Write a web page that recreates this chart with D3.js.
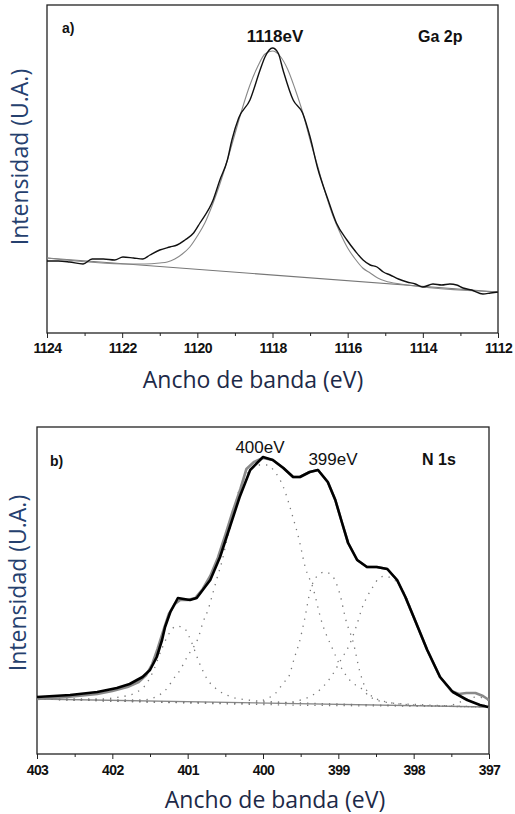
<!DOCTYPE html>
<html>
<head>
<meta charset="utf-8">
<script src="https://cdn.jsdelivr.net/npm/d3@7"></script>
<style>
  body { margin: 0; background: #fff; }
  svg { display: block; }
</style>
</head>
<body>
<script>
// ---- Panel a) Ga 2p : [binding energy (eV), intensity (a.u.)]
const gaMeasured = [
  [1124.0, 72], [1123.7, 72], [1123.4, 71], [1123.04, 69], [1122.8, 74], [1122.5, 74],
  [1122.2, 73], [1121.98, 76], [1121.7, 75], [1121.45, 74], [1121.26, 78], [1121.0, 83],
  [1120.73, 86], [1120.54, 88], [1120.33, 93], [1120.1, 100], [1119.93, 110],
  [1119.58, 133], [1119.4, 153], [1119.2, 173], [1119.08, 193], [1118.9, 215],
  [1118.6, 233], [1118.33, 263], [1118.2, 276], [1118.0, 285], [1117.85, 280],
  [1117.72, 263], [1117.45, 233], [1117.2, 220], [1117.0, 196], [1116.8, 165],
  [1116.52, 133], [1116.3, 110], [1116.02, 93], [1115.8, 82], [1115.59, 73],
  [1115.4, 68], [1115.22, 66], [1115.05, 61], [1114.87, 58], [1114.65, 54],
  [1114.42, 51], [1114.2, 49], [1114.0, 46], [1113.73, 49], [1113.5, 48], [1113.28, 49],
  [1113.1, 48], [1112.93, 45], [1112.7, 43], [1112.4, 39], [1112.2, 40], [1112.0, 41]
];
const gaFit = [
  [1124.0, 75], [1121.8, 69], [1121.4, 69], [1121.0, 70], [1120.8, 71], [1120.6, 74],
  [1120.4, 79], [1120.2, 86], [1120.0, 97], [1119.8, 110], [1119.6, 128], [1119.4, 149],
  [1119.2, 173], [1119.0, 199], [1118.8, 225], [1118.6, 248], [1118.4, 266], [1118.2, 279],
  [1118.0, 282], [1117.8, 277], [1117.6, 264], [1117.4, 244], [1117.2, 221], [1117.0, 193],
  [1116.8, 167], [1116.6, 141], [1116.4, 118], [1116.2, 100], [1116.0, 85], [1115.8, 74],
  [1115.6, 65], [1115.4, 60], [1115.2, 55], [1115.0, 52], [1114.6, 49], [1112.0, 41]
];
const gaBackground = [[1124.0, 75], [1112.0, 41]];
const gaTicks = [1124, 1122, 1120, 1118, 1116, 1114, 1112];
const gaMinorTicks = [1123, 1121, 1119, 1117, 1115, 1113];

// ---- Panel b) N 1s
const nMeasured = [
  [403.0, 57], [402.56, 59], [402.2, 62], [401.94, 66], [401.77, 70], [401.6, 77],
  [401.5, 84], [401.41, 97], [401.34, 114], [401.3, 127], [401.23, 142], [401.13, 156],
  [401.05, 155], [400.97, 154], [400.88, 156], [400.8, 164], [400.7, 174], [400.57, 197],
  [400.44, 227], [400.31, 257], [400.17, 284], [400.0, 297], [399.87, 294], [399.73, 286],
  [399.6, 277], [399.51, 277], [399.38, 282], [399.27, 284], [399.14, 272], [399.04, 254],
  [398.95, 231], [398.87, 211], [398.75, 194], [398.62, 187], [398.49, 187], [398.35, 185],
  [398.22, 174], [398.11, 157], [398.0, 137], [397.82, 104], [397.65, 77], [397.48, 62],
  [397.29, 54], [397.12, 49], [397.01, 47]
];
const nEnvelope = [
  [403.0, 55], [402.6, 57], [402.2, 60], [402.0, 63], [401.8, 67], [401.65, 72],
  [401.55, 79], [401.47, 90], [401.4, 105], [401.32, 124], [401.25, 140], [401.17, 150],
  [401.1, 154], [401.0, 154], [400.9, 156], [400.8, 165], [400.7, 178], [400.6, 196],
  [400.5, 219], [400.4, 243], [400.3, 265], [400.22, 285], [400.12, 292], [400.0, 296],
  [399.87, 294], [399.73, 286], [399.6, 277], [399.51, 277], [399.38, 282], [399.27, 284],
  [399.14, 272], [399.04, 254], [398.95, 231], [398.87, 211], [398.75, 194], [398.62, 187],
  [398.49, 187], [398.35, 185], [398.22, 174], [398.11, 157], [398.0, 137], [397.82, 104],
  [397.65, 77], [397.5, 63], [397.4, 60], [397.3, 61], [397.18, 61], [397.08, 58], [397.0, 54]
];
const nPeak1 = [
  [403.0, 55], [402.2, 55], [401.9, 57], [401.7, 61], [401.55, 70], [401.45, 84],
  [401.35, 104], [401.25, 120], [401.15, 128], [401.05, 126], [400.95, 112], [400.85, 92],
  [400.75, 76], [400.6, 64], [400.45, 58], [400.2, 54], [399.8, 52], [399.0, 50], [397.0, 47]
];
const nPeak2 = [
  [403.0, 55], [401.6, 54], [401.4, 58], [401.26, 67], [401.2, 74], [401.1, 84],
  [401.0, 98], [400.93, 106], [400.86, 116], [400.8, 131], [400.73, 144], [400.68, 157],
  [400.61, 176], [400.54, 194], [400.48, 214], [400.41, 234], [400.33, 261], [400.26, 274],
  [400.17, 284], [400.05, 289], [399.95, 289], [399.85, 283], [399.73, 267], [399.6, 236],
  [399.52, 214], [399.44, 187], [399.34, 167], [399.22, 132], [399.07, 104], [399.0, 92],
  [398.85, 74], [398.67, 64], [398.58, 57], [398.3, 51], [397.8, 49], [397.0, 47]
];
const nPeak3 = [
  [403.0, 55], [400.2, 51], [399.93, 56], [399.83, 61], [399.72, 72], [399.66, 77],
  [399.58, 97], [399.52, 111], [399.45, 134], [399.37, 164], [399.28, 178], [399.18, 182],
  [399.08, 178], [398.98, 160], [398.9, 134], [398.8, 111], [398.72, 84], [398.64, 66],
  [398.54, 57], [398.35, 52], [398.0, 49], [397.0, 47]
];
const nPeak4 = [
  [403.0, 55], [399.8, 51], [399.5, 54], [399.22, 66], [399.08, 79], [398.96, 95],
  [398.86, 108], [398.76, 128], [398.68, 147], [398.62, 157], [398.55, 166], [398.47, 175],
  [398.38, 178], [398.3, 176], [398.2, 170], [398.1, 157], [398.0, 137], [397.9, 118],
  [397.82, 104], [397.72, 88], [397.65, 77], [397.55, 67], [397.48, 62], [397.38, 57],
  [397.29, 54], [397.15, 50], [397.0, 48]
];
const nPeak5 = [
  [403.0, 55], [398.0, 48], [397.6, 48], [397.45, 50], [397.35, 53], [397.25, 56],
  [397.15, 57], [397.05, 55], [397.0, 53]
];
const nBackground = [[403.0, 55], [397.0, 47]];
const nTicks = [403, 402, 401, 400, 399, 398, 397];
const nMinorTicks = [402.5, 401.5, 400.5, 399.5, 398.5, 397.5];

const width = 515, height = 814;
const titleColor = '#1d2a48';
const yTitleColor = '#25406e';

let svg = d3.select('body')
    .append('svg')
    .attr('width', width)
    .attr('height', height)
    .style('background', '#fff');

function drawPanel(p) {
    let x = d3.scaleLinear().domain(p.xDomain).range([p.left, p.right]);
    let y = d3.scaleLinear().domain([0, p.bottom - p.top]).range([p.bottom, p.top]);
    let line = d3.line().x(d => x(d[0])).y(d => y(d[1]));
    let smooth = d3.line().x(d => x(d[0])).y(d => y(d[1])).curve(d3.curveMonotoneX);

    let g = svg.append('g');

    // minor ticks
    g.append('g')
        .attr('transform', `translate(0,${p.bottom})`)
        .call(d3.axisBottom(x).tickValues(p.minor).tickSize(3).tickFormat(''))
        .call(a => a.select('.domain').remove())
        .call(a => a.selectAll('line').attr('stroke', '#222'));

    // major ticks
    g.append('g')
        .attr('transform', `translate(0,${p.bottom})`)
        .call(d3.axisBottom(x).tickValues(p.ticks).tickSize(5).tickPadding(p.pad).tickFormat(d3.format('d')))
        .call(a => a.select('.domain').remove())
        .call(a => a.selectAll('line').attr('stroke', '#222'))
        .call(a => a.selectAll('text')
            .attr('fill', '#111')
            .style('font-family', '"Liberation Sans", Arial, sans-serif')
            .style('font-weight', 'bold')
            .style('font-size', p.tickFont + 'px')
            .style('letter-spacing', '-0.6px'));

    // frame
    g.append('rect')
        .attr('x', p.left).attr('y', p.top)
        .attr('width', p.right - p.left).attr('height', p.bottom - p.top)
        .attr('fill', 'none').attr('stroke', '#222').attr('stroke-width', 1.3);

    p.series.forEach(s => {
        g.append('path')
            .datum(s.data)
            .attr('d', s.smooth ? smooth : line)
            .attr('fill', 'none')
            .attr('stroke', s.color)
            .attr('stroke-width', s.width)
            .attr('stroke-dasharray', s.dash || null)
            .attr('stroke-linejoin', 'round');
    });

    // axis titles
    g.append('text')
        .attr('x', p.xTitle[0]).attr('y', p.xTitle[1])
        .attr('text-anchor', 'middle')
        .style('font-family', '"Open Sans", sans-serif')
        .style('font-size', '23px')
        .attr('fill', titleColor)
        .text('Ancho de banda (eV)');

    g.append('text')
        .attr('transform', `translate(${p.yTitle[0]},${p.yTitle[1]}) rotate(-90)`)
        .attr('text-anchor', 'middle')
        .style('font-family', '"Open Sans", sans-serif')
        .style('font-size', '23px')
        .attr('fill', yTitleColor)
        .text('Intensidad (U.A.)');

    p.labels.forEach(l => {
        g.append('text')
            .attr('x', l.x).attr('y', l.y)
            .attr('text-anchor', l.anchor || 'start')
            .style('font-family', '"Liberation Sans", Arial, sans-serif')
            .style('font-weight', l.bold ? 'bold' : 'normal')
            .style('font-size', l.size + 'px')
            .attr('fill', '#111')
            .text(l.text);
    });
}

// a) Ga 2p
drawPanel({
    xDomain: [1124, 1112], left: 47, right: 498, top: 5, bottom: 333,
    ticks: gaTicks, minor: gaMinorTicks, pad: 5, tickFont: 14,
    xTitle: [253, 388], yTitle: [28, 157],
    series: [
        { data: gaBackground, color: '#777', width: 1.1 },
        { data: gaFit, color: '#888', width: 1.1, smooth: true },
        { data: gaMeasured, color: '#111', width: 1.4, smooth: true }
    ],
    labels: [
        { text: 'a)', x: 62, y: 33, size: 14, bold: true },
        { text: '1118eV', x: 275, y: 42, size: 17, bold: true, anchor: 'middle' },
        { text: 'Ga 2p', x: 418, y: 42, size: 16, bold: true }
    ]
});

// b) N 1s
let dots = '1.3 6';
drawPanel({
    xDomain: [403, 397], left: 37, right: 489, top: 427, bottom: 754,
    ticks: nTicks, minor: nMinorTicks, pad: 6, tickFont: 14,
    xTitle: [275, 808], yTitle: [26, 583],
    series: [
        { data: nBackground, color: '#888', width: 1.3 },
        { data: nPeak1, color: '#7a7a7a', width: 1.3, dash: dots, smooth: true },
        { data: nPeak2, color: '#7a7a7a', width: 1.3, dash: dots, smooth: true },
        { data: nPeak3, color: '#7a7a7a', width: 1.3, dash: dots, smooth: true },
        { data: nPeak4, color: '#7a7a7a', width: 1.3, dash: dots, smooth: true },
        { data: nPeak5, color: '#7a7a7a', width: 1.3, dash: dots, smooth: true },
        { data: nEnvelope, color: '#8a8a8a', width: 2.6 },
        { data: nMeasured, color: '#000', width: 2.6 }
    ],
    labels: [
        { text: 'b)', x: 50, y: 466, size: 14, bold: true },
        { text: '400eV', x: 260, y: 453, size: 17, anchor: 'middle' },
        { text: '399eV', x: 333, y: 465, size: 17, anchor: 'middle' },
        { text: 'N 1s', x: 422, y: 465, size: 16, bold: true }
    ]
});
</script>
</body>
</html>
